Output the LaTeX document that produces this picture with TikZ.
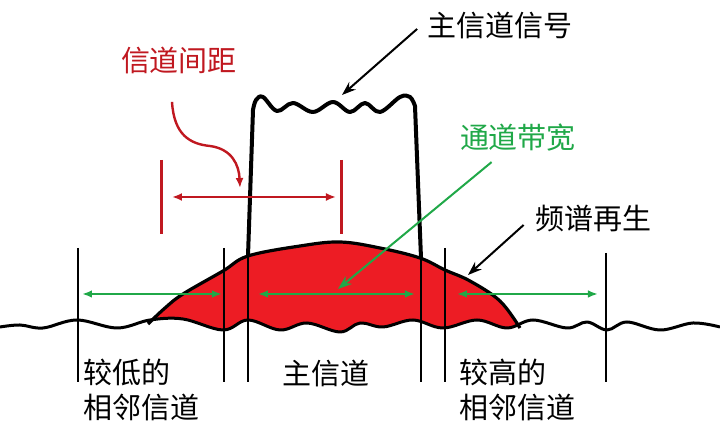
\documentclass[tikz,border=0pt]{standalone}
\usepackage{fontspec}
\setmainfont{Noto Sans CJK SC}
\usepackage{tikz}
\usetikzlibrary{arrows.meta}
\definecolor{humpred}{RGB}{237,28,36}
\definecolor{spacered}{RGB}{192,24,32}
\definecolor{bwgreen}{RGB}{32,168,72}

\begin{document}
\begin{tikzpicture}[x=0.5pt,y=-0.5pt,
		lbl/.style={font=\fontsize{14.5pt}{17.5pt}\selectfont, inner sep=0pt, align=left},
		edge/.style={line width=1.2pt},
		garr/.style={{Latex[length=5pt,width=3.8pt]}-{Latex[length=5pt,width=3.8pt]}, bwgreen, line width=1pt},
		ptr/.style={-{Stealth[length=7pt,width=5pt]}, line width=1pt},
		noisetrace/.style={insert path={-- plot[smooth, tension=0.6] coordinates {(0,327) (20,325) (43,328) (77,320) (117,328) (150,320) (183,319) (223,330) (248,320) (280,330) (307,323) (340,332) (360,323) (383,327) (413,320) (443,328) (477,320) (507,328) (533,320) (567,328) (587,322) (607,330) (627,322) (660,330) (693,323) (720,327)}}},
		humptrace/.style={insert path={-- plot[smooth, tension=0.6] coordinates {(148,324) (165,308) (183,294) (223,271) (248,256) (300,246) (340,242) (380,248) (420,258) (445,270) (470,281) (500,301) (520,328)}}}]
		\useasboundingbox (0,0) rectangle (720,426);
		
		% spectrum, cut off at the noise floor
		\begin{scope}
			\clip (0,0) -- (0,327) [noisetrace] -- (720,0) -- cycle;
			\fill[humpred] (145,350) -- (148,324) [humptrace] -- (525,350) -- cycle;
		\end{scope}
		\draw[line width=1.6pt] (148,324) [humptrace];
		\draw[line width=1.5pt, line join=round] (0,327) [noisetrace];
		
		% main channel signal
		\draw[line width=2pt, line join=round] (248,256) -- (253,110) -- plot[smooth, tension=0.6] coordinates {(253,110) (256,100) (263,97) (277,111) (293,103) (313,112) (333,102) (350,112) (365,103) (380,112) (400,97) (410,97) (415,106)} -- (421,258);
		
		\foreach \x/\t/\n in {78/248/va, 224/248/vb, 248/250/vc, 421/255/vd, 445/248/ve, 606/253/vf}{
			\draw[edge] (\x,\t) -- (\x,382);
			\coordinate (\n) at (\x,294);
		}
		\draw[garr, shorten <=2pt, shorten >=1pt] (va) -- (vb);
		\draw[garr, shorten <=5pt, shorten >=3pt] (vc) -- (vd);
		\draw[garr, shorten <=6pt, shorten >=4pt] (ve) -- (vf);
		
		% channel spacing
		\draw[spacered, line width=1.5pt] (162,160) -- (162,234);
		\draw[spacered, line width=1.5pt] (342,160) -- (342,234);
		\coordinate (sa) at (162,197);
		\coordinate (sb) at (342,197);
		\draw[{Latex[length=5pt,width=4pt]}-{Latex[length=5pt,width=4pt]}, spacered, line width=1.2pt, shorten <=5pt, shorten >=3pt] (sa) -- (sb);
		
		\node[lbl, text=spacered] (spacing) at (179,60) {信道间距};
		\node[lbl] (mainsig) at (500,25) {主信道信号};
		\node[lbl, text=bwgreen] (bw) at (518,138) {通道带宽};
		\node[lbl] (regrow) at (594,218) {频谱再生};
		\node[lbl, anchor=west] (lowadj) at (83,390) {较低的\\相邻信道};
		\node[lbl] (mainch) at (326,373) {主信道};
		\node[lbl, anchor=west] (upadj) at (459,390) {较高的\\相邻信道};
		
		\coordinate (rtip) at (240,188);
		\coordinate (sigtip) at (342,95);
		\coordinate (bwtip) at (338,289);
		\coordinate (regtip) at (468,275);
		\draw[-{Latex[length=5pt,width=4pt]}, spacered, line width=1.2pt] ([xshift=-3.5pt,yshift=-14pt]spacing.south) .. controls (174,135) and (190,144) .. (210,146) .. controls (232,149) and (239,165) .. (rtip);
		\draw[ptr] ([xshift=-5pt,yshift=-2pt]mainsig.west) -- (sigtip);
		\draw[ptr, bwgreen] ([xshift=16pt,yshift=-5pt]bw.south west) -- (bwtip);
		\draw[ptr] ([xshift=-6pt,yshift=-3.5pt]regrow.west) -- (regtip);
	\end{tikzpicture}
\end{document}
